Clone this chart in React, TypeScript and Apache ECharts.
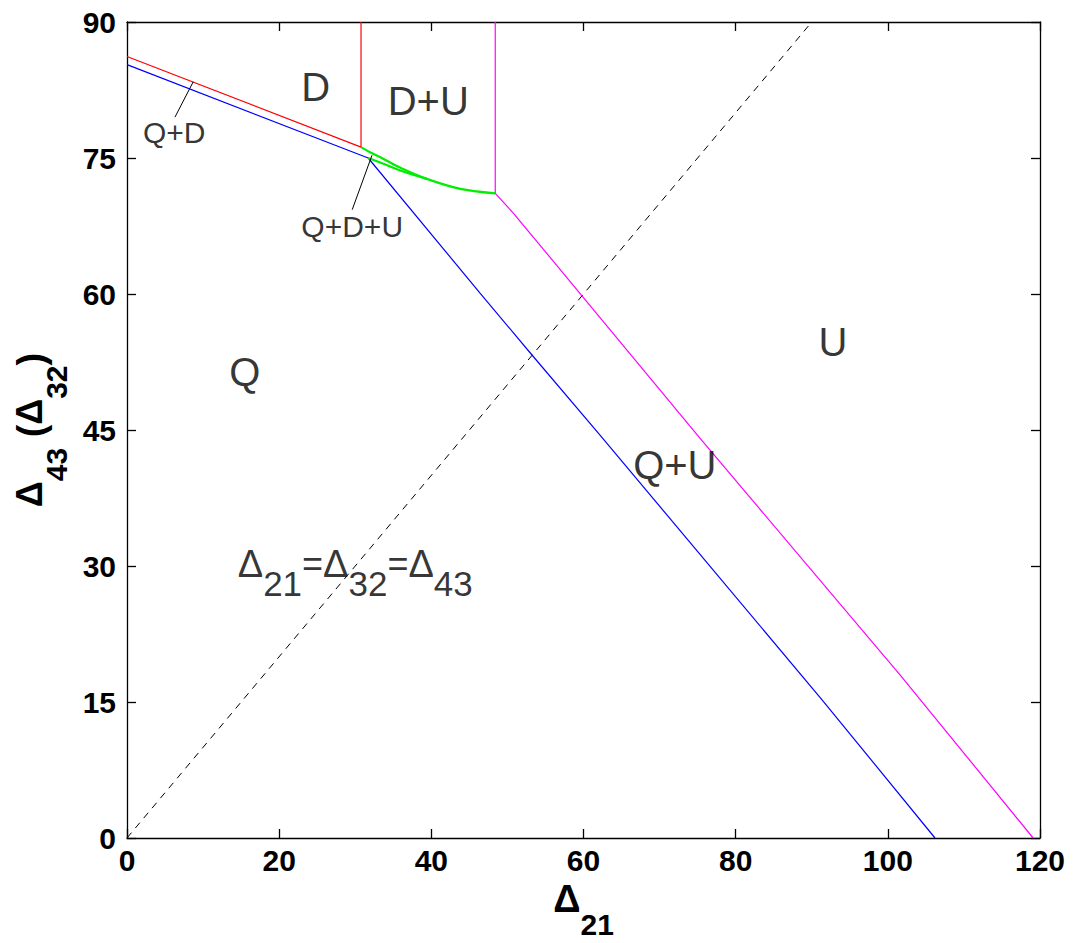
import React, { useEffect, useRef } from 'react';
import * as echarts from 'echarts';

const FONT = '"Liberation Sans", Arial, sans-serif';

// axis ranges / ticks
const xRange = [0, 120];
const xStep = 20;
const yRange = [0, 90];
const yStep = 15;

// boundary curves [Δ21, Δ43]
const redBoundary = [[0, 86.2], [30.76, 76.2], [30.76, 90]];
const blueBoundary = [[0, 85.3], [31.7, 75.0], [46.4, 60.1], [53.2, 53.3], [62.2, 44.4], [91.3, 15.3], [106.2, 0]];
const magentaBoundary = [[48.4, 90], [48.4, 71.1], [50.8, 68.9], [59.8, 59.8], [75.3, 44.1], [101.6, 18.0], [119.1, 0]];
const greenUpper = [[30.76, 76.2], [32, 75.6], [33.6, 74.95], [36, 73.9], [39.4, 72.7], [43.8, 71.6], [48.4, 71.1]];
const greenLower = [[31.7, 75.0], [33.6, 74.4], [36, 73.6], [39.4, 72.7]];
const diagonal = [[0, 0], [90, 90]];

// region labels [x, y, text]
const bigLabels: [number, number, string][] = [
  [24.8, 82.8, 'D'],
  [39.6, 81.3, 'D+U'],
  [15.5, 51.4, 'Q'],
  [92.8, 54.7, 'U'],
  [72.0, 41.1, 'Q+U'],
];
const smallLabels: [number, number, string][] = [
  [6.2, 77.8, 'Q+D'],
  [29.6, 67.4, 'Q+D+U'],
];
const eqLabel: [number, number] = [30.0, 29.2];

// arrows [tail, tip]
const arrows: [number[], number[]][] = [
  [[6.3, 79.5], [8.7, 83.4]],
  [[29.6, 69.3], [32.2, 75.3]],
];

export default function App() {
  const ref = useRef<HTMLDivElement>(null);
  useEffect(() => {
    if (!ref.current) return;
    const chart = echarts.init(ref.current, undefined, { renderer: 'svg' });
    const axisCommon = {
      type: 'value' as const,
      axisLine: { show: true, onZero: false, lineStyle: { color: '#000', width: 1.3 } },
      axisTick: { show: true, inside: true, length: 9, lineStyle: { color: '#000', width: 1.3 } },
      splitLine: { show: false },
    };
    const lineSeries = (data: number[][], color: string, width = 1.2, type: any = 'solid') => ({
      type: 'line',
      data,
      symbol: 'none',
      lineStyle: { color, width, type },
      silent: true,
      z: 3,
    });
    chart.setOption({
      animation: false,
      backgroundColor: '#fff',
      textStyle: { fontFamily: FONT },
      grid: { left: 127, right: 33, top: 22, bottom: 105, containLabel: false, outerBoundsMode: 'none' },
      xAxis: [
        {
          ...axisCommon,
          min: xRange[0], max: xRange[1], interval: xStep, position: 'bottom',
          axisLabel: { fontSize: 30, fontWeight: 'bold', color: '#000', margin: 7, fontFamily: FONT },
          name: '{d|Δ}{s|21}',
          nameLocation: 'middle',
          nameGap: 20,
          nameTextStyle: {
            rich: {
              d: { fontSize: 38, fontWeight: 'bold', color: '#000', lineHeight: 38, verticalAlign: 'top', fontFamily: FONT },
              s: { fontSize: 30, fontWeight: 'bold', color: '#000', lineHeight: 60, verticalAlign: 'bottom', fontFamily: FONT },
            },
          },
        },
        {
          ...axisCommon,
          min: xRange[0], max: xRange[1], interval: xStep, position: 'top',
          axisLabel: { show: false },
        },
      ],
      yAxis: [
        {
          ...axisCommon,
          min: yRange[0], max: yRange[1], interval: yStep, position: 'left',
          axisLabel: { fontSize: 30, fontWeight: 'bold', color: '#000', margin: 11, fontFamily: FONT },
          name: '{d|Δ}{s|43}{p| (}{d|Δ}{s|32}{p|)}',
          nameLocation: 'middle',
          nameGap: 54,
          nameTextStyle: {
            rich: {
              d: { fontSize: 36, fontWeight: 'bold', color: '#000', lineHeight: 36, verticalAlign: 'top', fontFamily: FONT },
              s: { fontSize: 30, fontWeight: 'bold', color: '#000', lineHeight: 60, verticalAlign: 'bottom', fontFamily: FONT },
              p: { fontSize: 38, fontWeight: 'bold', color: '#000', lineHeight: 38, verticalAlign: 'top', fontFamily: FONT },
            },
          },
        },
        {
          ...axisCommon,
          min: yRange[0], max: yRange[1], interval: yStep, position: 'right',
          axisLabel: { show: false },
        },
      ],
      series: [
        lineSeries(diagonal, '#000', 1, [7, 6]),
        lineSeries(redBoundary, '#ff0000'),
        lineSeries(blueBoundary, '#0000ff'),
        lineSeries(magentaBoundary, '#ff00ff'),
        { ...lineSeries(greenUpper, '#00ee00', 2.2), smooth: 0.3 },
        { ...lineSeries(greenLower, '#00ee00', 2.2), smooth: 0.3 },
        {
          type: 'line',
          data: [],
          symbol: 'none',
          silent: true,
          markLine: {
            silent: true,
            symbol: ['none', 'arrow'],
            symbolSize: [0, 11],
            lineStyle: { color: '#000', width: 1, type: 'solid' },
            label: { show: false },
            data: arrows.map(([a, b]) => [{ coord: a }, { coord: b }]),
          },
        },
        {
          type: 'scatter',
          symbolSize: 0,
          silent: true,
          data: bigLabels.map(([x, y, t]) => ({ value: [x, y], name: t })),
          label: {
            show: true, position: 'inside', formatter: (p: any) => p.name,
            fontSize: 40, color: '#000', fontFamily: FONT,
          },
          z: 5,
        },
        {
          type: 'scatter',
          symbolSize: 0,
          silent: true,
          data: smallLabels.map(([x, y, t]) => ({ value: [x, y], name: t })),
          label: {
            show: true, position: 'inside', formatter: (p: any) => p.name,
            fontSize: 30, color: '#000', fontFamily: FONT,
          },
          z: 5,
        },
        {
          type: 'scatter',
          symbolSize: 0,
          silent: true,
          data: [{ value: eqLabel, name: 'eq' }],
          label: {
            show: true, position: 'inside',
            formatter: '{d|Δ}{s|21}{e|=}{d|Δ}{s|32}{e|=}{d|Δ}{s|43}',
            rich: {
              d: { fontSize: 38, color: '#000', lineHeight: 38, verticalAlign: 'top', fontFamily: FONT },
              e: { fontSize: 36, color: '#000', lineHeight: 40, verticalAlign: 'top', fontFamily: FONT },
              s: { fontSize: 35, color: '#000', lineHeight: 56, verticalAlign: 'bottom', fontFamily: FONT },
            },
          },
          z: 5,
        },
      ],
    });
    return () => chart.dispose();
  }, []);
  return <div ref={ref} style={{ position: 'fixed', left: 0, top: 0, width: 1073, height: 943, background: '#fff' }} />;
}
